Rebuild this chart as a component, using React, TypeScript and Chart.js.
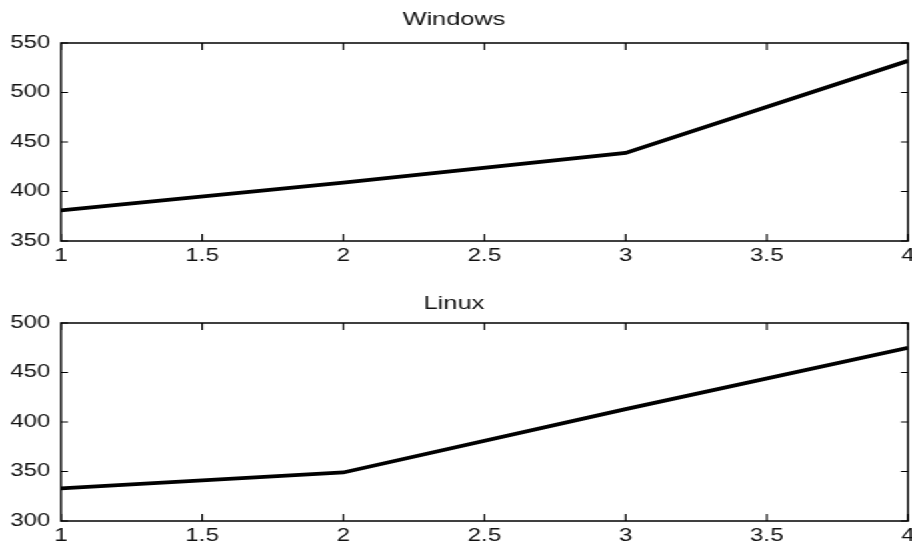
import React, { useEffect, useRef } from "react";
import { Chart, registerables } from "chart.js";

Chart.register(...registerables);

// ---- data ----
const xValues = [1, 2, 3, 4];
const windowsValues = [381, 409, 439, 532];
const linuxValues = [333, 349, 413, 475];
const titles = ["Windows", "Linux"];
const xTickValues = [1, 1.5, 2, 2.5, 3, 3.5, 4];
const windowsYTicks = [350, 400, 450, 500, 550];
const linuxYTicks = [300, 350, 400, 450, 500];

// the reference is horizontally stretched; render narrower and stretch
const S = 4 / 3;
const W = Math.round(912 / S);
const FONT = "'Liberation Sans', Arial, Helvetica, sans-serif";

const matlabAxes = {
  id: "matlabAxes",
  afterDraw(chart: any) {
    const { ctx, chartArea } = chart;
    const { left, right, top, bottom } = chartArea;
    const xs = chart.scales.x;
    const ys = chart.scales.y;
    ctx.save();
    ctx.strokeStyle = "#000";
    ctx.lineWidth = 1.5;
    ctx.strokeRect(left, top, right - left, bottom - top);
    ctx.lineWidth = 1.2;
    ctx.beginPath();
    const tl = 7;
    xs.ticks.forEach((t: any) => {
      const px = xs.getPixelForValue(t.value);
      ctx.moveTo(px, bottom);
      ctx.lineTo(px, bottom - tl);
      ctx.moveTo(px, top);
      ctx.lineTo(px, top + tl);
    });
    ys.ticks.forEach((t: any) => {
      const py = ys.getPixelForValue(t.value);
      ctx.moveTo(left, py);
      ctx.lineTo(left + tl / S, py);
      ctx.moveTo(right, py);
      ctx.lineTo(right - tl / S, py);
    });
    ctx.stroke();
    ctx.restore();
  },
};

function makeConfig(
  title: string,
  values: number[],
  yTicks: number[],
  titlePadTop: number,
  titlePadBottom: number
): any {
  return {
    type: "line",
    data: {
      datasets: [
        {
          data: xValues.map((x, i) => ({ x, y: values[i] })),
          borderColor: "#000",
          borderWidth: 3.8,
          pointRadius: 0,
          tension: 0,
          fill: false,
        },
      ],
    },
    plugins: [matlabAxes],
    options: {
      responsive: false,
      animation: false,
      events: [],
      layout: { padding: { left: 0, right: 3, top: 0, bottom: 0 } },
      plugins: {
        legend: { display: false },
        tooltip: { enabled: false },
        title: {
          display: true,
          text: title,
          color: "#111",
          font: { family: FONT, size: 19, weight: "normal" },
          padding: { top: titlePadTop, bottom: titlePadBottom },
        },
      },
      scales: {
        x: {
          type: "linear",
          min: xTickValues[0],
          max: xTickValues[xTickValues.length - 1],
          grid: { display: false },
          border: { display: false },
          afterBuildTicks: (scale: any) => {
            scale.ticks = xTickValues.map((v) => ({ value: v }));
          },
          ticks: {
            autoSkip: false,
            maxRotation: 0,
            padding: -4,
            color: "#111",
            font: { family: FONT, size: 18 },
            callback: (v: any) => String(v),
          },
          afterFit: (scale: any) => {
            scale.height = 39;
            scale.paddingLeft = 0;
            scale.paddingRight = 0;
          },
        },
        y: {
          type: "linear",
          min: yTicks[0],
          max: yTicks[yTicks.length - 1],
          grid: { display: false },
          border: { display: false },
          afterBuildTicks: (scale: any) => {
            scale.ticks = yTicks.map((v) => ({ value: v }));
          },
          ticks: {
            autoSkip: false,
            padding: 0,
            color: "#111",
            font: { family: FONT, size: 18 },
            callback: (v: any) => String(v),
          },
          afterFit: (scale: any) => {
            scale.width = 61 / S;
            scale.paddingTop = 0;
            scale.paddingBottom = 0;
          },
        },
      },
    },
  };
}

export default function App() {
  const ref1 = useRef<HTMLCanvasElement | null>(null);
  const ref2 = useRef<HTMLCanvasElement | null>(null);

  useEffect(() => {
    const c1 = new Chart(
      ref1.current as HTMLCanvasElement,
      makeConfig(titles[0], windowsValues, windowsYTicks, 8.4, 11.8)
    );
    const c2 = new Chart(
      ref2.current as HTMLCanvasElement,
      makeConfig(titles[1], linuxValues, linuxYTicks, 11.9, 8.3)
    );
    return () => {
      c1.destroy();
      c2.destroy();
    };
  }, []);

  return (
    <div
      style={{
        position: "absolute",
        left: 0,
        top: 0,
        width: W,
        height: 546,
        overflow: "hidden",
        background: "#fff",
        transform: `scaleX(${S})`,
        transformOrigin: "0 0",
      }}
    >
      <canvas
        ref={ref1}
        width={W}
        height={280}
        style={{ position: "absolute", left: 0, top: 0, display: "block" }}
      />
      <canvas
        ref={ref2}
        width={W}
        height={280}
        style={{ position: "absolute", left: 0, top: 280, display: "block" }}
      />
    </div>
  );
}
